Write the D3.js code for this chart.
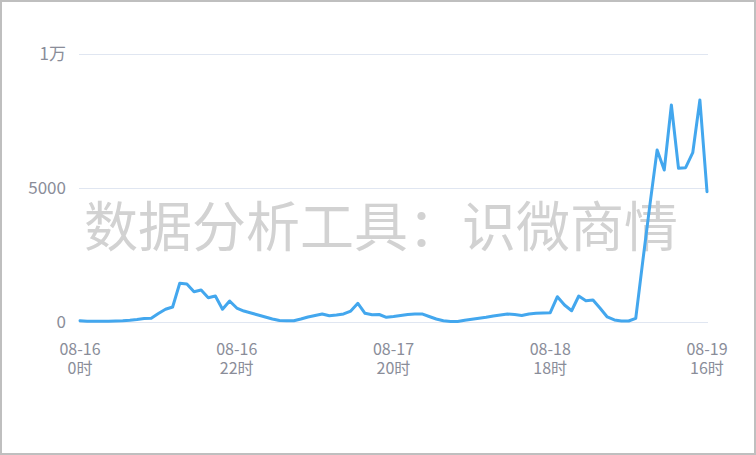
<!DOCTYPE html>
<html><head><meta charset="utf-8">
<script src="https://cdn.jsdelivr.net/npm/d3@7"></script>
<style>html,body{margin:0;padding:0;background:#fff;}svg{display:block;}</style>
</head><body>
<svg id="c" width="756" height="455"></svg>
<script>
// hourly index 0..88 (08-16 0时 → 08-19 16时)
const values = [45,30,25,25,30,37,48,67,93,130,138,317,474,560,1444,1418,1130,1194,907,970,
474,784,522,410,336,261,187,112,56,48,48,112,187,243,300,235,261,300,410,698,
325,272,280,175,205,243,280,300,300,205,112,48,19,19,67,100,138,175,224,261,
300,280,243,300,325,336,347,944,634,420,970,795,820,511,187,75,40,37,138,2300,
4400,6418,5672,8097,5735,5757,6317,8284,4862];
const xTickIndex = [0,22,44,66,88];
const xTickDates = ["08-16","08-16","08-17","08-18","08-19"];
const xTickHours = ["0时","22时","20时","18时","16时"];
const yTicks = [0,5000,10000];
const yTickLabels = ["0","5000","1万"];
const watermark = "数据分析工具：识微商情";

const svg = d3.select("#c");
const font = "'Noto Sans CJK SC','Noto Sans',sans-serif";
svg.append("rect").attr("x",1).attr("y",1).attr("width",754).attr("height",453)
  .attr("fill","#fff").attr("stroke","#bfbfbf").attr("stroke-width",2);

const x = d3.scaleLinear().domain([0, values.length-1]).range([80,707]);
const y = d3.scaleLinear().domain([0,10000]).range([322,54]);

// grid
svg.append("g").selectAll("line").data(yTicks).join("line")
  .attr("x1",79).attr("x2",708).attr("y1",d=>y(d)+0.5).attr("y2",d=>y(d)+0.5)
  .attr("stroke","#e0e6f1").attr("stroke-width",1);
svg.append("g").selectAll("text").data(yTicks).join("text")
  .attr("x",66).attr("y",d=>y(d)).attr("dy","0.36em").attr("text-anchor","end")
  .attr("font-family",font).attr("font-size",17).attr("fill","#8a8d99")
  .text((d,i)=>yTickLabels[i]);

// watermark
svg.append("text").attr("x",381).attr("y",228).attr("dy","0.36em").attr("text-anchor","middle")
  .attr("font-family",font).attr("font-size",54).attr("fill","#d2d2d2")
  .text(watermark);

// x labels
const xl = svg.append("g").selectAll("text").data(xTickIndex).join("text")
  .attr("text-anchor","middle").attr("font-family",font).attr("font-size",16).attr("fill","#8a8d99");
xl.append("tspan").attr("x",d=>x(d)).attr("y",355).text((d,i)=>xTickDates[i]);
xl.append("tspan").attr("x",d=>x(d)).attr("y",374).text((d,i)=>xTickHours[i]);

// line
svg.append("path").datum(values)
  .attr("fill","none").attr("stroke","#43a7ee").attr("stroke-width",3)
  .attr("stroke-linejoin","round").attr("stroke-linecap","round")
  .attr("d", d3.line().x((d,i)=>x(i)).y(d=>y(d)));
</script>
</body></html>
